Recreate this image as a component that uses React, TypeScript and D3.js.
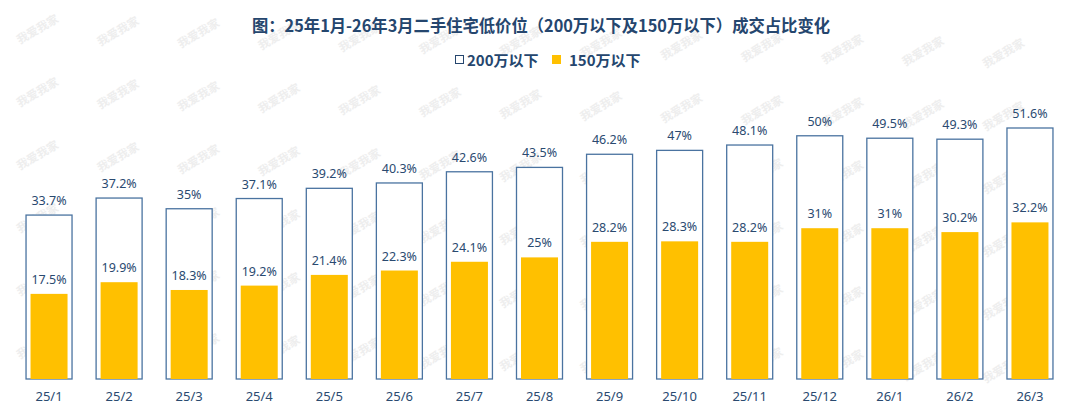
import React from "react";
import * as d3 from "d3";

const categories = ["25/1","25/2","25/3","25/4","25/5","25/6","25/7","25/8","25/9","25/10","25/11","25/12","26/1","26/2","26/3"];
const under200 = [33.7,37.2,35,37.1,39.2,40.3,42.6,43.5,46.2,47,48.1,50,49.5,49.3,51.6];
const under150 = [17.5,19.9,18.3,19.2,21.4,22.3,24.1,25,28.2,28.3,28.2,31,31,30.2,32.2];
const seriesNames = ["200万以下","150万以下"];
const title = "图：25年1月-26年3月二手住宅低价位（200万以下及150万以下）成交占比变化";

const W = 1080, H = 412;
const TXT = "#2a4a70";
const STROKE = "#4a73a0";
const YELLOW = "#FFC000";
const FONT = "'Noto Sans CJK SC', 'Noto Sans', sans-serif";

export default function App() {
  const x = d3.scaleBand<string>().domain(categories).range([14, 1065]).padding(0);
  const y = d3.scaleLinear().domain([0, 51.6]).range([379, 128]);
  const outerW = 46, innerW = 37;
  const fmt = (v: number) => `${v}%`;

  const marks: { x: number; y: number }[] = [];
  for (let r = 0; r < 7; r++) {
    for (let c = 0; c < 13; c++) {
      const px = 38 + c * 80.5;
      const py = 29 + r * 63 + px * 0.025;
      if (py < 395) marks.push({ x: px, y: py });
    }
  }

  return (
    <svg width={W} height={H} style={{ display: "block", position: "absolute", left: 0, top: 0 }} fontFamily={FONT}>
      <rect width={W} height={H} fill="#fff" />
      {marks.map((m, i) => (
        <text key={i} x={m.x} y={m.y} fontSize={11.5} fontWeight={700} fill="#eeeeee" textAnchor="middle"
          dominantBaseline="middle" transform={`rotate(-30 ${m.x} ${m.y})`}>我爱我家</text>
      ))}
      <text x={541} y={32} textAnchor="middle" fontSize={16.5} fontWeight={700} fill="#25466e"
        textLength={578} lengthAdjust="spacingAndGlyphs">{title}</text>
      <g fontSize={15} fontWeight={700} fill="#25466e">
        <rect x={455.5} y={55.5} width={8} height={8} fill="#fff" stroke="#25466e" strokeWidth={1} />
        <text x={467} y={66}>{seriesNames[0]}</text>
        <rect x={552} y={55} width={9} height={9} fill={YELLOW} />
        <text x={569} y={66}>{seriesNames[1]}</text>
      </g>
      {categories.map((c, i) => {
        const cx = (x(c) as number) + x.bandwidth() / 2;
        const y1 = y(under200[i]);
        const y2 = y(under150[i]);
        return (
          <g key={c}>
            <rect x={cx - outerW / 2} y={y1} width={outerW} height={y(0) - y1} fill="#fff" stroke={STROKE} strokeWidth={1.3} />
            <rect x={cx - innerW / 2} y={y2} width={innerW} height={y(0) - y2} fill={YELLOW} />
            <text x={cx} y={y1 - 10} textAnchor="middle" fontSize={12.5} fill={TXT} fontFamily="'Noto Sans', sans-serif">{fmt(under200[i])}</text>
            <text x={cx} y={y2 - 10} textAnchor="middle" fontSize={12.5} fill={TXT} fontFamily="'Noto Sans', sans-serif">{fmt(under150[i])}</text>
            <text x={cx} y={401} textAnchor="middle" fontSize={13} fill={TXT} fontFamily="'Noto Sans', sans-serif">{c}</text>
          </g>
        );
      })}
    </svg>
  );
}
